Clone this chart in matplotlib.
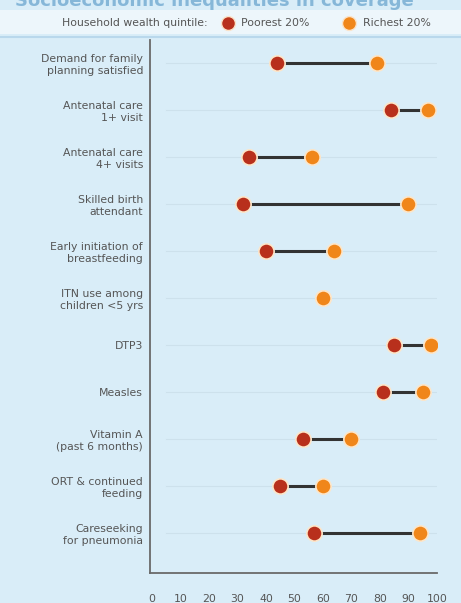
import numpy as np
import matplotlib.pyplot as plt
import matplotlib as mpl

mpl.rcParams['font.family'] = ['DejaVu Sans']

indicators = ['Demand for family\nplanning satisfied', 'Antenatal care\n1+ visit',
              'Antenatal care\n4+ visits', 'Skilled birth\nattendant',
              'Early initiation of\nbreastfeeding', 'ITN use among\nchildren <5 yrs',
              'DTP3', 'Measles', 'Vitamin A\n(past 6 months)',
              'ORT & continued\nfeeding', 'Careseeking\nfor pneumonia']
poorest = [44, 84, 34, 32, 40, 60, 85, 81, 53, 45, 57]
richest = [79, 97, 56, 90, 64, 60, 98, 95, 70, 60, 94]
xticks = [0, 10, 20, 30, 40, 50, 60, 70, 80, 90, 100]

bg = '#d9edf8'
c_poor = '#b8301c'
c_rich = '#f0861a'
txt = '#555555'
fs = 7.8

fig = plt.figure(figsize=(4.61, 6.03), dpi=100)
fig.patch.set_facecolor(bg)

# legend band and cut-off title
fig.patches.append(mpl.patches.Rectangle((0, 1 - 34/603), 1, 24/603, transform=fig.transFigure,
                                         facecolor='#edf6fb', edgecolor='none', zorder=0))
fig.lines.append(mpl.lines.Line2D([0, 1], [1 - 37/603] * 2, transform=fig.transFigure,
                                  color='#b9d8ec', lw=1.5))
fig.text(15/461, 1 - 6/603, 'Socioeconomic inequalities in coverage', fontsize=13,
         color='#4f93c4', va='baseline', ha='left', fontweight='bold', alpha=0.6)

ly = 1 - 23/603
fig.text(208/461, ly, 'Household wealth quintile:', fontsize=fs, color=txt, ha='right', va='center')
fig.lines.append(mpl.lines.Line2D([228/461], [ly], transform=fig.transFigure, marker='o',
                                  markersize=10, color=c_poor, markeredgecolor='#fbe3c8'))
fig.text(241/461, ly, 'Poorest 20%', fontsize=fs, color=txt, ha='left', va='center')
fig.lines.append(mpl.lines.Line2D([349/461], [ly], transform=fig.transFigure, marker='o',
                                  markersize=10, color=c_rich, markeredgecolor='#fbe3c8'))
fig.text(363/461, ly, 'Richest 20%', fontsize=fs, color=txt, ha='left', va='center')

ax = fig.add_axes([150/461, 1 - 573/603, 287/461, 533/603])
ax.set_facecolor(bg)

y = np.arange(len(indicators))
for yi in y:
    ax.plot([5, 100], [yi, yi], color='#cde1ec', lw=0.8, zorder=1)
ax.hlines(y, poorest, richest, color='#333333', lw=2.2, zorder=2)
ax.plot(poorest, y, 'o', ms=11, color=c_poor, markeredgecolor='#fde6c9', mew=1.2, zorder=3)
ax.plot(richest, y, 'o', ms=11, color=c_rich, markeredgecolor='#fde6c9', mew=1.2, zorder=4)

ax.set_xlim(-0.7, 100)
ax.set_ylim(10.85, -0.49)
ax.set_yticks(y)
ax.set_yticklabels(indicators, fontsize=fs, color=txt, linespacing=1.25)
ax.set_xticks(xticks)
ax.set_xticklabels(xticks, fontsize=fs, color=txt)
ax.tick_params(length=0, pad=5)
ax.tick_params(axis='x', pad=15)
for s in ['top', 'right']:
    ax.spines[s].set_visible(False)
for s in ['left', 'bottom']:
    ax.spines[s].set_color('#6a6a6a')
    ax.spines[s].set_linewidth(1.3)

plt.savefig('out.png', dpi=100, facecolor=bg)
